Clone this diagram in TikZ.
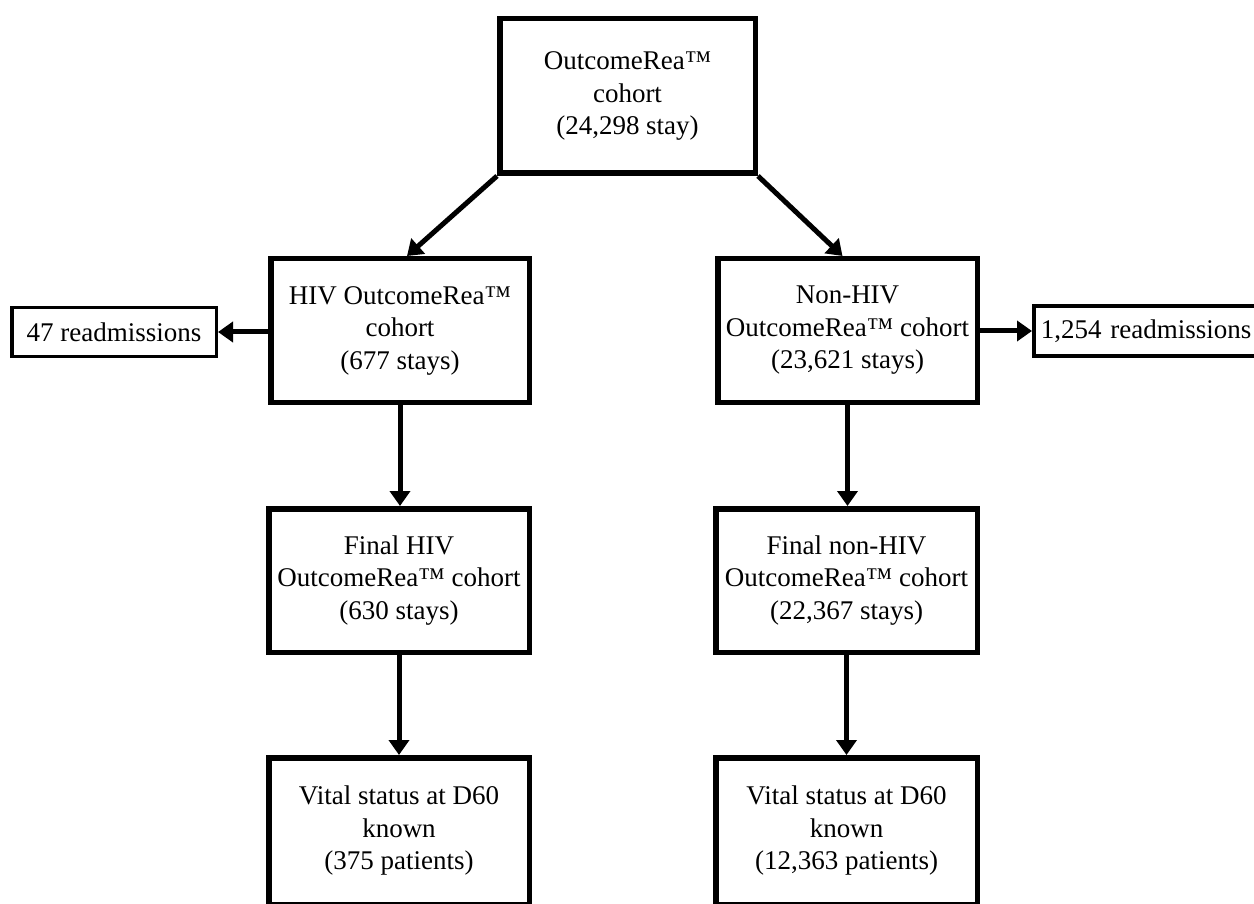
\documentclass[tikz,border=0pt]{standalone}
\usepackage{fontspec}
\setmainfont{Liberation Serif}
\usetikzlibrary{arrows.meta}
\begin{document}
\begin{tikzpicture}[x=1pt,y=-1pt,
  bigbox/.style={draw, line width=5.5pt, align=center, inner sep=0pt,
    font=\fontsize{27}{32.5}\selectfont},
  smallbox/.style={draw, line width=3.5pt, align=center, inner sep=0pt,
    font=\fontsize{27}{32.5}\selectfont},
  arr/.style={line width=5pt, -{Triangle[length=15pt,width=20pt]}}]
\useasboundingbox (0,0) rectangle (1254,904);
\fill[white] (0,0) rectangle (1254,904);
\clip (0,0) rectangle (1254,904);

\node[bigbox, minimum width=255.5pt, minimum height=154.5pt] (top) at (627.5,96)
  {OutcomeRea™\\cohort\\(24,298 stay)};
\node[bigbox, minimum width=258.5pt, minimum height=143.5pt] (hiv) at (400,330.5)
  {HIV OutcomeRea™\\cohort\\(677 stays)};
\node[bigbox, minimum width=259.5pt, minimum height=143.5pt] (non) at (847.5,330.5)
  {Non-HIV\\OutcomeRea™ cohort\\(23,621 stays)};
\node[smallbox, minimum width=204.5pt, minimum height=48.5pt] (r47) at (114,332)
  {47 readmissions};
\node[smallbox, anchor=west, minimum height=49.5pt, inner xsep=7pt,
  text width=240pt, align=left] (r1254) at (1032,331)
  {1,254 readmissions};
\node[bigbox, minimum width=260.5pt, minimum height=143.5pt] (fhiv) at (399,580.5)
  {Final HIV\\OutcomeRea™ cohort\\(630 stays)};
\node[bigbox, minimum width=261.5pt, minimum height=143.5pt] (fnon) at (846.5,580.5)
  {Final non-HIV\\OutcomeRea™ cohort\\(22,367 stays)};
\node[bigbox, minimum width=260.5pt, minimum height=146.5pt] (vhiv) at (399,831)
  {Vital status at D60\\known\\(375 patients)};
\node[bigbox, minimum width=261.5pt, minimum height=146.5pt] (vnon) at (846.5,831)
  {Vital status at D60\\known\\(12,363 patients)};

\draw[arr] (top.south west) -- ([xshift=7pt]hiv.north);
\draw[arr] (top.south east) -- ([xshift=-5pt]non.north);
\draw[arr] (r47.east -| hiv.west) -- (r47.east);
\draw[arr] (r1254.west -| non.east) -- (r1254.west);
\draw[arr] (hiv.south) -- (hiv.south |- fhiv.north);
\draw[arr] (non.south) -- (non.south |- fnon.north);
\draw[arr] (fhiv.south) -- (vhiv.north);
\draw[arr] (fnon.south) -- (vnon.north);
\end{tikzpicture}
\end{document}
